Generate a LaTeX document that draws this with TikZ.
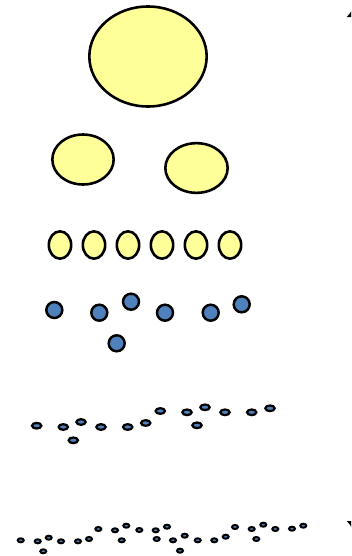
\documentclass[tikz,border=0pt]{standalone}
\usepackage{xcolor}
\usepackage{tikz}
\usetikzlibrary{arrows.meta,shapes.geometric}

\definecolor{paleyellow}{RGB}{255,255,153}
\definecolor{dotblue}{RGB}{79,129,189}

\begin{document}
\begin{tikzpicture}[
  x=0.03cm, y=-0.03cm,
  blob/.style={draw, ellipse, inner sep=0pt, fill=paleyellow, line width=2.2pt},
  bead/.style={draw, circle, inner sep=0pt, fill=dotblue, line width=2.1pt,
    minimum size=0.48cm},
  grain/.style={draw, ellipse, inner sep=0pt, fill=dotblue, line width=1.9pt,
    minimum width=0.28cm, minimum height=0.17cm},
  speck/.style={draw, ellipse, inner sep=0pt, fill=dotblue, line width=1.7pt,
    minimum width=0.18cm, minimum height=0.12cm},
  arr/.style={{Latex[length=0.3cm,width=0.42cm]}-{Latex[length=0.3cm,width=0.42cm]}, line width=1.2pt}
]
\useasboundingbox (0,0) rectangle (351,556);
\clip (0,0) rectangle (351,556);

% top level
\node[blob, minimum width=3.52cm, minimum height=3.0cm] (root) at (148,56.5) {};
% second level
\node[blob, minimum width=1.84cm, minimum height=1.5cm] (left) at (83,159.5) {};
\node[blob, minimum width=1.87cm, minimum height=1.49cm] (right) at (196.5,168) {};
% third level
\foreach \i/\x in {1/60,2/94,3/128,4/162,5/196,6/230}
  \node[blob, minimum width=0.67cm, minimum height=0.82cm] (part\i) at (\x,245) {};

% blue beads
\foreach \i/\x/\y in {1/54.3/310, 2/99.3/312.7, 3/131/301.7, 4/165/312.7,
    5/210.7/312.7, 6/241.7/304.3, 7/116.7/343.3}
  \node[bead] (bead\i) at (\x,\y) {};

% grains
\foreach \i/\x/\y in {1/36.7/425.7, 2/63.3/427, 3/81/422, 4/101/427,
    5/127.7/427, 6/145.7/423, 7/160.3/411, 8/187/412.3, 9/205/407.3,
    10/225/412.3, 11/251.7/412.3, 12/270/408.3, 13/73.3/440.3, 14/197/425.3}
  \node[grain] (grain\i) at (\x,\y) {};

% specks
\foreach \i/\x/\y in {1/20.7/540.3, 2/37.7/541.3, 3/48.7/537.7, 4/61/541.3,
    5/78/541.3, 6/89/539, 7/98.3/529, 8/115/530.3, 9/126.3/525.7,
    10/139.3/530, 11/155.7/530.3, 12/167/526.7, 13/121.7/540.3,
    14/156.7/539, 15/173/540.3, 16/184.7/535.7, 17/180/550.7,
    18/197.7/540.3, 19/214.3/540.3, 20/225.7/536.7, 21/235/527,
    22/251.7/529, 23/263.3/524.7, 24/275.3/529, 25/292/528.7,
    26/303.3/525.7, 27/43.3/551.3, 28/256.3/539}
  \node[speck] (speck\i) at (\x,\y) {};

% scale arrow on the right edge
\coordinate (coarse) at (353.5,7);
\coordinate (fine) at (353.5,531);
\draw[arr] (coarse) -- (fine);
\end{tikzpicture}
\end{document}
